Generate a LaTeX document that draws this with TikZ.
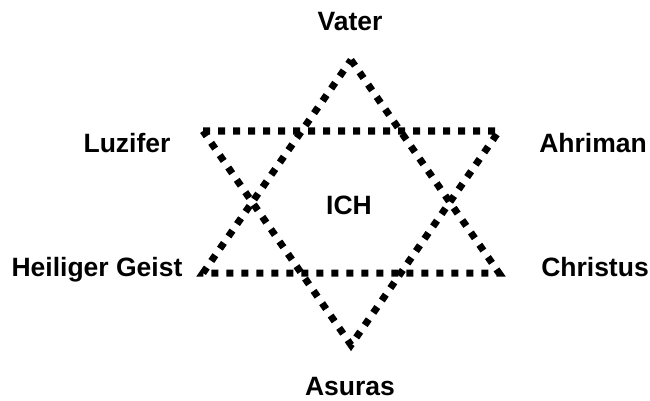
\documentclass[tikz,border=0pt]{standalone}
\usepackage{fontspec}
\setmainfont{Liberation Sans}
\begin{document}
\begin{tikzpicture}[x=1pt,y=-1pt,
  starline/.style={line width=7pt, dash pattern=on 7pt off 8pt, line join=miter},
  lbl/.style={inner sep=0pt, anchor=base, font=\fontsize{26.5}{30}\selectfont\bfseries}]
\useasboundingbox (0,0) rectangle (650,401);
\coordinate (top) at (351,60);
\coordinate (bl) at (203,273);
\coordinate (br) at (499,273);
\coordinate (tl) at (203,131);
\coordinate (tr) at (499,131);
\coordinate (bot) at (351,345);
\draw[starline] (top) -- (br) -- (bl) -- cycle;
\draw[starline] (tl) -- (tr) -- (bot) -- cycle;
\node[lbl] (vater) at (350,31) {Vater};
\node[lbl] (luzifer) at (127,153) {Luzifer};
\node[lbl] (ahriman) at (593,153) {Ahriman};
\node[lbl] (ich) at (349,214) {ICH};
\node[lbl] (geist) at (97,276) {Heiliger Geist};
\node[lbl] (christus) at (595,276) {Christus};
\node[lbl] (asuras) at (350,395.5) {Asuras};
\end{tikzpicture}
\end{document}
